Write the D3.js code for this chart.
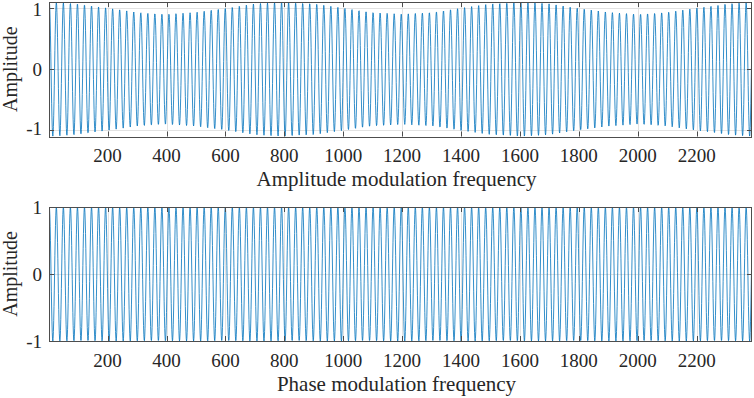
<!DOCTYPE html>
<html>
<head>
<meta charset="utf-8">
<script src="https://cdn.jsdelivr.net/npm/d3@7"></script>
<style>
  body { margin: 0; background: #fff; }
  svg { display: block; }
  text { font-family: "Liberation Serif", "Times New Roman", serif; fill: #262626; }
</style>
</head>
<body>
<svg id="chart" width="754" height="398"></svg>
<script>
// values
const xTicks = [200, 400, 600, 800, 1000, 1200, 1400, 1600, 1800, 2000, 2200];
const yTicks = [-1, 0, 1];
const xRange = [1, 2388];
const carrierPeriod = 23.9;      // distance between neighbouring peaks
const carrierFirstPeak = 2;
// amplitude envelope of the top signal, read every 100 units from 0 to 2400
const envX = [0, 100, 200, 300, 400, 500, 600, 700, 800, 900, 1000, 1100, 1200,
              1300, 1400, 1500, 1600, 1700, 1800, 1900, 2000, 2100, 2200, 2300, 2400];
const envAM = [1.10, 1.07, 1.00, 0.93, 0.90, 0.93, 1.00, 1.07, 1.10, 1.07, 1.00, 0.93, 0.90,
               0.93, 1.00, 1.07, 1.10, 1.07, 1.00, 0.93, 0.90, 0.93, 1.00, 1.07, 1.10];
const envPM = envX.map(() => 1);

const panels = [
    { top: 2, bottom: 136.5, yDomain: [-1.1, 1.1], env: envAM, label: "Amplitude modulation frequency" },
    { top: 207, bottom: 341, yDomain: [-1, 1], env: envPM, label: "Phase modulation frequency" }
];

const left = 49, right = 752;
const svg = d3.select('#chart');

const x = d3.scaleLinear().domain(xRange).range([left, right]);

panels.forEach(p => {
    const y = d3.scaleLinear().domain(p.yDomain).range([p.bottom, p.top]);
    const envelope = d3.scaleLinear().domain(envX).range(p.env);

    const samples = d3.range(xRange[0], xRange[1] + 0.5, 1).map(t => ({
        t: t,
        v: envelope(t) * Math.cos(2 * Math.PI * (t - carrierFirstPeak) / carrierPeriod)
    }));

    const g = svg.append('g');

    // grid
    g.selectAll('.gx').data(xTicks).enter().append('line')
        .attr('x1', d => Math.round(x(d)) + 0.5).attr('x2', d => Math.round(x(d)) + 0.5)
        .attr('y1', p.top).attr('y2', p.bottom)
        .attr('stroke', '#e2e2e2').attr('stroke-width', 1);
    g.selectAll('.gy').data(yTicks).enter().append('line')
        .attr('x1', left).attr('x2', right)
        .attr('y1', d => Math.round(y(d)) + 0.5).attr('y2', d => Math.round(y(d)) + 0.5)
        .attr('stroke', '#e2e2e2').attr('stroke-width', 1);

    // signal
    g.append('clipPath').attr('id', 'clip' + p.top)
        .append('rect').attr('x', left).attr('y', p.top)
        .attr('width', right - left).attr('height', p.bottom - p.top);

    g.append('path')
        .datum(samples)
        .attr('clip-path', 'url(#clip' + p.top + ')')
        .attr('fill', 'none')
        .attr('stroke', '#0072BD')
        .attr('stroke-width', 0.8)
        .attr('d', d3.line().x(d => x(d.t)).y(d => y(d.v)));

    // ticks (inward, on every side)
    const tl = 5;
    xTicks.forEach(d => {
        const xx = Math.round(x(d)) + 0.5;
        g.append('line').attr('x1', xx).attr('x2', xx).attr('y1', p.bottom).attr('y2', p.bottom - tl)
            .attr('stroke', '#4d4d4d');
        g.append('line').attr('x1', xx).attr('x2', xx).attr('y1', p.top).attr('y2', p.top + tl)
            .attr('stroke', '#4d4d4d');
    });
    yTicks.forEach(d => {
        const yy = Math.round(y(d)) + 0.5;
        g.append('line').attr('x1', left).attr('x2', left + tl).attr('y1', yy).attr('y2', yy)
            .attr('stroke', '#4d4d4d');
        g.append('line').attr('x1', right).attr('x2', right - tl).attr('y1', yy).attr('y2', yy)
            .attr('stroke', '#4d4d4d');
    });

    // box
    g.append('rect')
        .attr('x', left + 0.5).attr('y', Math.round(p.top) + 0.5)
        .attr('width', right - left - 1).attr('height', Math.round(p.bottom - p.top))
        .attr('fill', 'none').attr('stroke', '#4d4d4d').attr('stroke-width', 1);

    // tick labels
    g.selectAll('.xl').data(xTicks).enter().append('text')
        .attr('x', d => x(d)).attr('y', p.bottom + 25.5)
        .attr('text-anchor', 'middle').attr('font-size', 19)
        .text(d => d);
    g.selectAll('.yl').data(yTicks).enter().append('text')
        .attr('x', left - 7).attr('y', d => y(d) + 6.5 + (d > 0 ? 1.5 : d < 0 ? -1.5 : 0) * (p.yDomain[1] > 1 ? 1 : 0))
        .attr('text-anchor', 'end').attr('font-size', 19)
        .text(d => d < 0 ? '-' + Math.abs(d) : d);

    // axis labels
    g.append('text')
        .attr('x', (left + right) / 2 - 4).attr('y', p.bottom + 49.5)
        .attr('text-anchor', 'middle').attr('font-size', 21)
        .text(p.label);
    g.append('text')
        .attr('transform', 'translate(17,' + ((p.top + p.bottom) / 2) + ') rotate(-90)')
        .attr('text-anchor', 'middle').attr('font-size', 20)
        .text('Amplitude');
});
</script>
</body>
</html>
